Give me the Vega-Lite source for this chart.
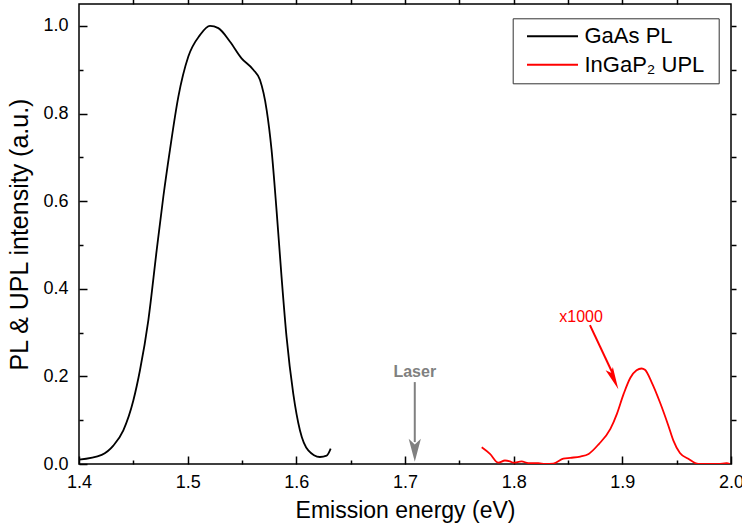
{
  "$schema": "https://vega.github.io/schema/vega-lite/v6.json",
  "width": 652,
  "height": 460,
  "autosize": {"type": "none"},
  "padding": {"left": 79, "top": 4, "right": 11, "bottom": 63},
  "background": "white",
  "config": {
    "view": {"stroke": "#000000", "strokeWidth": 1.5},
    "font": "Liberation Sans",
    "axis": {
      "domain": false,
      "grid": false,
      "labelColor": "#000000",
      "titleColor": "#000000",
      "labelFont": "Liberation Sans",
      "titleFont": "Liberation Sans",
      "titleFontWeight": "normal",
      "labelFlush": false,
      "labelOverlap": false
    }
  },
  "datasets": {
    "spectra": [
      {"E": 1.4, "I": 0.010, "series": "GaAs PL"},
      {"E": 1.4209, "I": 0.021, "series": "GaAs PL"},
      {"E": 1.4316, "I": 0.042, "series": "GaAs PL"},
      {"E": 1.4408, "I": 0.077, "series": "GaAs PL"},
      {"E": 1.45, "I": 0.145, "series": "GaAs PL"},
      {"E": 1.4561, "I": 0.214, "series": "GaAs PL"},
      {"E": 1.4638, "I": 0.328, "series": "GaAs PL"},
      {"E": 1.4715, "I": 0.488, "series": "GaAs PL"},
      {"E": 1.4776, "I": 0.610, "series": "GaAs PL"},
      {"E": 1.4837, "I": 0.717, "series": "GaAs PL"},
      {"E": 1.4914, "I": 0.838, "series": "GaAs PL"},
      {"E": 1.5006, "I": 0.930, "series": "GaAs PL"},
      {"E": 1.5113, "I": 0.979, "series": "GaAs PL"},
      {"E": 1.5205, "I": 1.0, "series": "GaAs PL"},
      {"E": 1.5282, "I": 0.995, "series": "GaAs PL"},
      {"E": 1.539, "I": 0.964, "series": "GaAs PL"},
      {"E": 1.5496, "I": 0.926, "series": "GaAs PL"},
      {"E": 1.5604, "I": 0.900, "series": "GaAs PL"},
      {"E": 1.5665, "I": 0.877, "series": "GaAs PL"},
      {"E": 1.5727, "I": 0.808, "series": "GaAs PL"},
      {"E": 1.5772, "I": 0.717, "series": "GaAs PL"},
      {"E": 1.5818, "I": 0.579, "series": "GaAs PL"},
      {"E": 1.5864, "I": 0.427, "series": "GaAs PL"},
      {"E": 1.591, "I": 0.290, "series": "GaAs PL"},
      {"E": 1.5972, "I": 0.160, "series": "GaAs PL"},
      {"E": 1.6033, "I": 0.077, "series": "GaAs PL"},
      {"E": 1.611, "I": 0.031, "series": "GaAs PL"},
      {"E": 1.6217, "I": 0.016, "series": "GaAs PL"},
      {"E": 1.6279, "I": 0.019, "series": "GaAs PL"},
      {"E": 1.6316, "I": 0.035, "series": "GaAs PL"},
      {"E": 1.7706, "I": 0.038, "series": "InGaP₂ UPL"},
      {"E": 1.7782, "I": 0.023, "series": "InGaP₂ UPL"},
      {"E": 1.7858, "I": 0.003, "series": "InGaP₂ UPL"},
      {"E": 1.792, "I": 0.008, "series": "InGaP₂ UPL"},
      {"E": 1.7966, "I": 0.006, "series": "InGaP₂ UPL"},
      {"E": 1.7997, "I": 0.003, "series": "InGaP₂ UPL"},
      {"E": 1.8073, "I": 0.006, "series": "InGaP₂ UPL"},
      {"E": 1.8134, "I": 0.002, "series": "InGaP₂ UPL"},
      {"E": 1.8227, "I": 0.002, "series": "InGaP₂ UPL"},
      {"E": 1.8288, "I": 0.0, "series": "InGaP₂ UPL"},
      {"E": 1.8365, "I": 0.001, "series": "InGaP₂ UPL"},
      {"E": 1.8457, "I": 0.012, "series": "InGaP₂ UPL"},
      {"E": 1.8521, "I": 0.014, "series": "InGaP₂ UPL"},
      {"E": 1.8613, "I": 0.017, "series": "InGaP₂ UPL"},
      {"E": 1.869, "I": 0.023, "series": "InGaP₂ UPL"},
      {"E": 1.8782, "I": 0.045, "series": "InGaP₂ UPL"},
      {"E": 1.889, "I": 0.080, "series": "InGaP₂ UPL"},
      {"E": 1.8951, "I": 0.115, "series": "InGaP₂ UPL"},
      {"E": 1.9012, "I": 0.160, "series": "InGaP₂ UPL"},
      {"E": 1.9074, "I": 0.197, "series": "InGaP₂ UPL"},
      {"E": 1.9131, "I": 0.214, "series": "InGaP₂ UPL"},
      {"E": 1.9177, "I": 0.218, "series": "InGaP₂ UPL"},
      {"E": 1.9208, "I": 0.215, "series": "InGaP₂ UPL"},
      {"E": 1.9269, "I": 0.187, "series": "InGaP₂ UPL"},
      {"E": 1.9346, "I": 0.141, "series": "InGaP₂ UPL"},
      {"E": 1.9423, "I": 0.088, "series": "InGaP₂ UPL"},
      {"E": 1.9469, "I": 0.054, "series": "InGaP₂ UPL"},
      {"E": 1.953, "I": 0.025, "series": "InGaP₂ UPL"},
      {"E": 1.9607, "I": 0.012, "series": "InGaP₂ UPL"},
      {"E": 1.9699, "I": 0.0, "series": "InGaP₂ UPL"},
      {"E": 1.9791, "I": 0.0, "series": "InGaP₂ UPL"},
      {"E": 1.9883, "I": 0.0, "series": "InGaP₂ UPL"},
      {"E": 1.996, "I": 0.002, "series": "InGaP₂ UPL"},
      {"E": 1.999, "I": 0.0, "series": "InGaP₂ UPL"}
    ]
  },
  "layer": [
    {
      "data": {"name": "spectra"},
      "mark": {"type": "line", "strokeWidth": 1.8, "interpolate": "monotone", "clip": true},
      "encoding": {
        "x": {
          "field": "E", "type": "quantitative",
          "scale": {"domain": [1.4, 2.0], "nice": false, "zero": false},
          "axis": {
            "orient": "bottom",
            "values": [1.4, 1.5, 1.6, 1.7, 1.8, 1.9, 2.0],
            "format": ".1f",
            "tickColor": "#000000",
            "tickWidth": 1.5,
            "tickSize": -8,
            "labelPadding": 17,
            "labelFontSize": 18,
            "title": "Emission energy (eV)",
            "titleFontSize": 23,
            "titlePadding": 8
          }
        },
        "y": {
          "field": "I", "type": "quantitative",
          "scale": {"domain": [0, 1.05], "nice": false, "zero": false},
          "axis": {
            "orient": "left",
            "values": [0, 0.2, 0.4, 0.6, 0.8, 1.0],
            "format": ".1f",
            "tickColor": "#000000",
            "tickWidth": 1.5,
            "tickSize": -8,
            "labelPadding": 19,
            "labelFontSize": 18,
            "title": "PL & UPL intensity (a.u.)",
            "titleFontSize": 25,
            "titlePadding": 10
          }
        },
        "color": {
          "field": "series", "type": "nominal",
          "scale": {"domain": ["GaAs PL", "InGaP₂ UPL"], "range": ["#000000", "#ff0000"]},
          "legend": {
            "orient": "none",
            "legendX": 433.7,
            "legendY": 14.3,
            "title": " ",
            "titleOrient": "right",
            "titlePadding": 7,
            "titleFontSize": 11,
            "padding": 7,
            "strokeColor": "#333333",
            "fillColor": "white",
            "cornerRadius": 0,
            "symbolType": "M-2.55,0L2.55,0",
            "symbolSize": 400,
            "symbolStrokeWidth": 2,
            "symbolOffset": 21.8,
            "labelOffset": 21,
            "labelFontSize": 22,
            "labelFont": "Liberation Sans",
            "labelColor": "#000000",
            "rowPadding": 6.4,
            "labelLimit": 300
          }
        }
      }
    },
    {
      "data": {"values": [{"x": 1.709, "y": 0.187, "y2": 0.05}]},
      "mark": {"type": "rule", "color": "#808080", "strokeWidth": 2},
      "encoding": {
        "x": {
          "field": "x", "type": "quantitative",
          "scale": {"domain": [1.4, 2.0], "nice": false, "zero": false},
          "axis": {"orient": "bottom", "values": [1.45, 1.55, 1.65, 1.75, 1.85, 1.95], "tickColor": "#000000", "tickWidth": 1.5, "tickSize": -4, "labels": false, "title": null}
        },
        "y": {
          "field": "y", "type": "quantitative",
          "scale": {"domain": [0, 1.05], "nice": false, "zero": false},
          "axis": {"orient": "left", "values": [0.1, 0.3, 0.5, 0.7, 0.9], "tickColor": "#000000", "tickWidth": 1.5, "tickSize": -4, "labels": false, "title": null}
        },
        "y2": {"field": "y2"}
      }
    },
    {
      "data": {"values": [{"x": 1.709, "y": 0.005}]},
      "mark": {"type": "point", "shape": "M0,0L-0.53,-2L0,-1.5L0.53,-2Z", "size": 529, "filled": true, "color": "#808080", "opacity": 1, "strokeWidth": 0},
      "encoding": {
        "x": {
          "field": "x", "type": "quantitative",
          "scale": {"domain": [1.4, 2.0], "nice": false, "zero": false},
          "axis": {"orient": "top", "values": [1.45, 1.5, 1.55, 1.6, 1.65, 1.7, 1.75, 1.8, 1.85, 1.9, 1.95], "tickColor": "#000000", "tickWidth": 1.5, "tickSize": 5, "labels": false, "title": null}
        },
        "y": {
          "field": "y", "type": "quantitative",
          "scale": {"domain": [0, 1.05], "nice": false, "zero": false},
          "axis": {"orient": "right", "values": [0.1, 0.2, 0.3, 0.4, 0.5, 0.6, 0.7, 0.8, 0.9, 1.0], "tickColor": "#000000", "tickWidth": 1.5, "tickSize": 5, "labels": false, "title": null}
        }
      }
    },
    {
      "data": {"values": [{"x": 1.8702, "y": 0.317, "x2": 1.8905, "y2": 0.21}]},
      "mark": {"type": "rule", "color": "#ff0000", "strokeWidth": 2},
      "encoding": {
        "x": {"field": "x", "type": "quantitative", "axis": null},
        "y": {"field": "y", "type": "quantitative", "axis": null},
        "x2": {"field": "x2"},
        "y2": {"field": "y2"}
      }
    },
    {
      "data": {"values": [{"x": 1.8963, "y": 0.1705}]},
      "mark": {"type": "point", "shape": "M0,0L-0.35,-2L0,-1.6L0.35,-2Z", "size": 511, "angle": 336.25, "filled": true, "color": "#ff0000", "opacity": 1, "strokeWidth": 0},
      "encoding": {
        "x": {"field": "x", "type": "quantitative", "axis": null},
        "y": {"field": "y", "type": "quantitative", "axis": null}
      }
    },
    {
      "data": {"values": [{"x": 1.709, "y": 0.209, "label": "Laser"}]},
      "mark": {"type": "text", "fontSize": 16, "fontWeight": "bold", "color": "#808080", "align": "center", "baseline": "middle"},
      "encoding": {
        "x": {"field": "x", "type": "quantitative", "axis": null},
        "y": {"field": "y", "type": "quantitative", "axis": null},
        "text": {"field": "label"}
      }
    },
    {
      "data": {"values": [{"x": 1.862, "y": 0.336, "label": "x1000"}]},
      "mark": {"type": "text", "fontSize": 16, "color": "#ff0000", "align": "center", "baseline": "middle"},
      "encoding": {
        "x": {"field": "x", "type": "quantitative", "axis": null},
        "y": {"field": "y", "type": "quantitative", "axis": null},
        "text": {"field": "label"}
      }
    }
  ],
  "resolve": {"axis": {"x": "independent", "y": "independent"}}
}
